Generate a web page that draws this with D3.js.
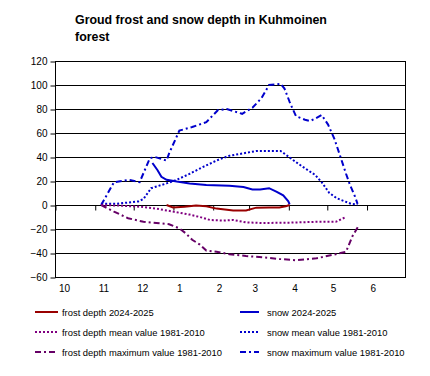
<!DOCTYPE html>
<html>
<head>
<meta charset="utf-8">
<script src="https://cdn.jsdelivr.net/npm/d3@7"></script>
<style>
    body { margin: 0; background: #fff; }
    svg text { font-family: "Liberation Sans", Arial, sans-serif; fill: #000; }
</style>
</head>
<body>
<div id="chart-container"></div>
<script>
// month tick labels (season Oct 2024 - Jun 2025)
const monthStarts = ['2024-10-01', '2024-11-01', '2024-12-01', '2025-01-01', '2025-02-01',
    '2025-03-01', '2025-04-01', '2025-05-01', '2025-06-01'];
const monthLabels = ['10', '11', '12', '1', '2', '3', '4', '5', '6'];
const yTicks = [-60, -40, -20, 0, 20, 40, 60, 80, 100, 120];

// frost depth 2024-2025 (cm, negative = below ground)
const frostDates = ['2024-12-27', '2025-01-01', '2025-01-10', '2025-01-19', '2025-01-27', '2025-02-04',
    '2025-02-17', '2025-02-27', '2025-03-07', '2025-03-17', '2025-03-25', '2025-03-30', '2025-04-02'];
const frostValues = [0, -2, -1.5, -0.5, -1, -3, -4.5, -4.5, -2.2, -2, -2, -1, 0];

// snow 2024-2025
const snowDates = ['2024-12-16', '2024-12-20', '2024-12-23', '2024-12-27', '2025-01-04', '2025-01-14',
    '2025-01-27', '2025-02-14', '2025-02-25', '2025-03-04', '2025-03-10', '2025-03-17', '2025-03-23',
    '2025-03-28', '2025-04-01', '2025-04-02'];
const snowValues = [35, 29, 23.5, 21, 19.5, 18, 16.7, 16, 15, 13, 13, 14, 11, 8, 3, 0.5];

// frost depth mean 1981-2010
const frostMeanDates = ['2024-11-06', '2024-11-20', '2024-12-06', '2024-12-19', '2025-01-01', '2025-01-14',
    '2025-01-22', '2025-01-30', '2025-02-09', '2025-02-17', '2025-02-27', '2025-03-12', '2025-04-02',
    '2025-04-23', '2025-05-08', '2025-05-16'];
const frostMeanValues = [0, -0.5, -1.4, -3, -5.5, -8, -10, -12.5, -13, -12.5, -14.5, -15, -14.7, -14, -14, -10];

// snow mean 1981-2010
const snowMeanDates = ['2024-11-06', '2024-11-18', '2024-12-05', '2024-12-09', '2024-12-15', '2024-12-27',
    '2025-01-04', '2025-01-14', '2025-01-25', '2025-02-06', '2025-02-14', '2025-02-22', '2025-03-07',
    '2025-03-17', '2025-03-26', '2025-03-30', '2025-04-04', '2025-04-12', '2025-04-22', '2025-04-27',
    '2025-05-03', '2025-05-09', '2025-05-15', '2025-05-20', '2025-05-25'];
const snowMeanValues = [1, 1, 3, 5, 14, 18, 21, 26, 32, 38, 41, 42.5, 45, 45, 45, 42, 38, 32, 25, 19,
    10, 5.5, 3, 1, 0.5];

// frost depth maximum 1981-2010
const frostMaxDates = ['2024-11-06', '2024-11-16', '2024-11-27', '2024-12-09', '2024-12-19', '2024-12-29',
    '2025-01-06', '2025-01-11', '2025-01-16', '2025-01-22', '2025-01-27', '2025-02-04', '2025-02-14',
    '2025-02-27', '2025-03-12', '2025-03-25', '2025-04-07', '2025-04-23', '2025-05-08', '2025-05-16',
    '2025-05-21', '2025-05-26'];
const frostMaxValues = [0, -5.5, -11, -14, -15, -16, -19.5, -23.6, -29, -33, -38, -39, -41, -42.5, -43.6,
    -45, -46, -44.4, -41, -39, -26, -17];

// snow maximum 1981-2010
const snowMaxDates = ['2024-11-06', '2024-11-16', '2024-11-28', '2024-12-06', '2024-12-14', '2024-12-18',
    '2024-12-27', '2024-12-29', '2025-01-06', '2025-01-16', '2025-01-27', '2025-02-05', '2025-02-12',
    '2025-02-24', '2025-03-04', '2025-03-11', '2025-03-17', '2025-03-26', '2025-03-29', '2025-04-02',
    '2025-04-04', '2025-04-07', '2025-04-14', '2025-04-18', '2025-04-22', '2025-04-27', '2025-05-02',
    '2025-05-07', '2025-05-12', '2025-05-16', '2025-05-19', '2025-05-23', '2025-05-25'];
const snowMaxValues = [0, 19, 21, 19, 39, 40, 37, 43, 62, 65, 69, 79, 80, 76, 81, 89, 100, 101, 97, 86,
    81, 74, 71, 70, 72, 75, 67, 55, 39, 26, 17, 7, 1];

function createChart(elementId) {
    // container dimensions
    const width = 430;
    const height = 376;
    const plot = { left: 55, right: 405, top: 61, bottom: 277 };

    const parse = d3.timeParse('%Y-%m-%d');

    const svg = d3.select(elementId).append('svg')
        .attr('width', width)
        .attr('height', height);

    const x = d3.scaleTime()
        .domain([parse('2024-10-01'), parse('2025-07-01')])
        .range([plot.left, plot.right]);

    const y = d3.scaleLinear()
        .domain([-60, 120])
        .range([plot.bottom, plot.top]);

    // title
    const title = svg.append('text')
        .attr('x', 75)
        .attr('y', 24)
        .style('font-size', '12.4px')
        .style('font-weight', 'bold');
    title.append('tspan').attr('x', 75).text('Groud frost and snow depth in Kuhmoinen');
    title.append('tspan').attr('x', 75).attr('dy', 17).text('forest');

    // horizontal grid lines
    svg.append('g')
        .selectAll('line')
        .data(yTicks)
        .join('line')
        .attr('x1', plot.left)
        .attr('x2', plot.right)
        .attr('y1', d => y(d) + 0.5)
        .attr('y2', d => y(d) + 0.5)
        .attr('stroke', '#000')
        .attr('stroke-width', 1);

    // plot border
    svg.append('rect')
        .attr('x', plot.left + 0.5)
        .attr('y', plot.top + 0.5)
        .attr('width', plot.right - plot.left)
        .attr('height', plot.bottom - plot.top)
        .attr('fill', 'none')
        .attr('stroke', '#000');

    // y axis
    const yAxis = svg.append('g')
        .attr('transform', `translate(${plot.left + 0.5},0.5)`)
        .call(d3.axisLeft(y).tickValues(yTicks).tickSize(5).tickPadding(3));
    yAxis.select('.domain').remove();
    yAxis.selectAll('line').attr('stroke', '#000');
    yAxis.selectAll('text')
        .style('font-size', '10px')
        .style('font-family', '"Liberation Sans", Arial, sans-serif');

    // x axis crosses at zero
    const months = monthStarts.map(parse);
    const xAxis = svg.append('g')
        .attr('transform', `translate(0.5,${y(0) + 0.5})`)
        .call(d3.axisBottom(x).tickValues(months).tickSize(5).tickFormat(''));
    xAxis.select('.domain').remove();
    xAxis.selectAll('line').attr('stroke', '#000');

    // month labels along the bottom
    svg.append('g')
        .selectAll('text')
        .data(months)
        .join('text')
        .attr('x', d => x(d) + 4)
        .attr('y', 292)
        .style('font-size', '10px')
        .text((d, i) => monthLabels[i]);

    // series
    const series = [
        { name: 'snow maximum value 1981-2010', dates: snowMaxDates, values: snowMaxValues, color: '#0000cc', dash: '6,3,2,3' },
        { name: 'frost depth maximum value 1981-2010', dates: frostMaxDates, values: frostMaxValues, color: '#660066', dash: '6,3,2,3' },
        { name: 'snow mean value 1981-2010', dates: snowMeanDates, values: snowMeanValues, color: '#0000cc', dash: '2,2' },
        { name: 'frost depth mean value 1981-2010', dates: frostMeanDates, values: frostMeanValues, color: '#800080', dash: '2,2' },
        { name: 'snow 2024-2025', dates: snowDates, values: snowValues, color: '#0000cc', dash: null },
        { name: 'frost depth 2024-2025', dates: frostDates, values: frostValues, color: '#990000', dash: null },
    ];

    const line = d3.line()
        .x(d => x(d.date))
        .y(d => y(d.value));

    svg.append('g')
        .selectAll('path')
        .data(series)
        .join('path')
        .attr('d', s => line(s.dates.map((d, i) => ({ date: parse(d), value: s.values[i] }))))
        .attr('fill', 'none')
        .attr('stroke', s => s.color)
        .attr('stroke-width', 2)
        .attr('stroke-dasharray', s => s.dash);

    // legend, two columns
    const legendOrder = [
        'frost depth 2024-2025', 'snow 2024-2025',
        'frost depth mean value 1981-2010', 'snow mean value 1981-2010',
        'frost depth maximum value 1981-2010', 'snow maximum value 1981-2010',
    ];
    const legendItem = svg.append('g')
        .selectAll('g')
        .data(legendOrder.map(n => series.find(s => s.name === n)))
        .join('g')
        .attr('transform', (d, i) => `translate(${i % 2 === 0 ? 35 : 240},${312 + Math.floor(i / 2) * 20})`);

    legendItem.append('line')
        .attr('x1', 0)
        .attr('x2', (d, i) => i % 2 === 0 ? 23 : 19)
        .attr('stroke', d => d.color)
        .attr('stroke-width', 2)
        .attr('stroke-dasharray', d => d.dash);

    legendItem.append('text')
        .attr('x', 27)
        .attr('y', 3.5)
        .style('font-size', '9.4px')
        .text(d => d.name);
}

createChart('#chart-container');
</script>
</body>
</html>
